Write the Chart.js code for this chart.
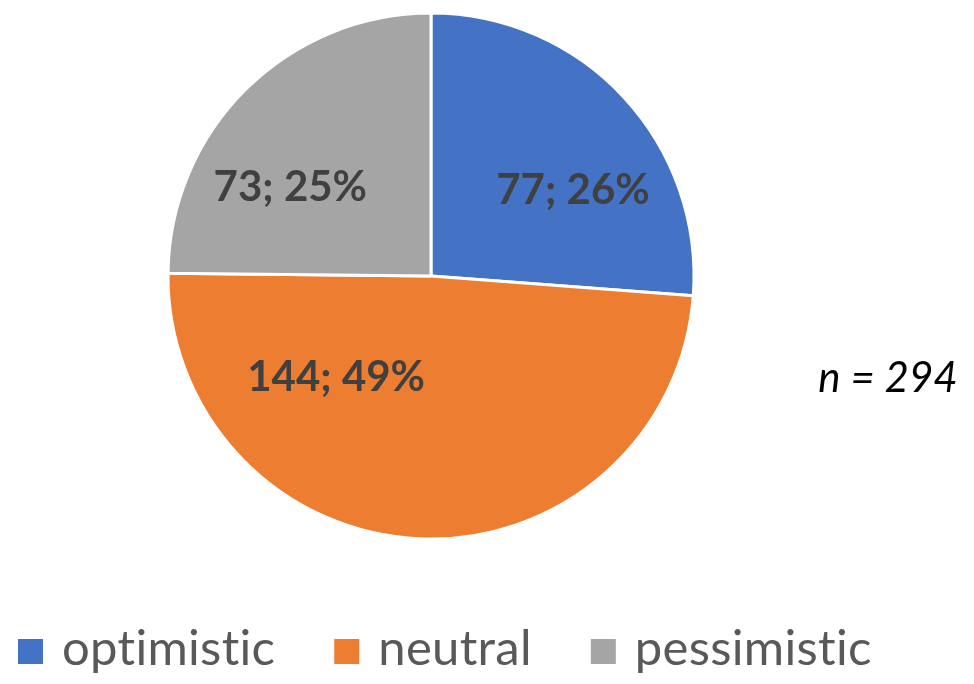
<!DOCTYPE html>
<html>
<head>
<meta charset="utf-8">
<script src="https://cdn.jsdelivr.net/npm/chart.js@4.4.1/dist/chart.umd.min.js"></script>
<style>
  html, body { margin: 0; padding: 0; background: #fff; }
  #wrap { position: relative; width: 974px; height: 684px; }
</style>
</head>
<body>
<div id="wrap"><canvas id="pieChart" width="974" height="684"></canvas></div>
<script>
// data
const categories = ['optimistic', 'neutral', 'pessimistic'];
const counts = [77, 144, 73];
const sliceColors = ['#4472C4', '#ED7D31', '#A5A5A5'];
const noteText = 'n = 294';

// where Excel put the labels: angle from 12 o'clock (deg) and fraction of radius
const labelAngles = [58.5, 223.5, 302.6];
const labelDist = [0.633, 0.524, 0.635];

const total = counts.reduce((a, b) => a + b, 0);

const labelPlugin = {
    id: 'sliceLabels',
    afterDatasetsDraw(chart) {
        const ctx = chart.ctx;
        const arcs = chart.getDatasetMeta(0).data;
        ctx.save();
        ctx.font = 'bold 42px Lato';
        ctx.fillStyle = '#404040';
        ctx.textAlign = 'center';
        ctx.textBaseline = 'middle';
        arcs.forEach((arc, i) => {
            const a = labelAngles[i] * Math.PI / 180;
            const r = arc.outerRadius * labelDist[i];
            const x = arc.x + Math.sin(a) * r;
            const y = arc.y - Math.cos(a) * r;
            const pct = Math.round(counts[i] / total * 100);
            ctx.fillText(counts[i] + '; ' + pct + '%', x, y + 1);
        });
        ctx.restore();
    },
    afterDraw(chart) {
        const ctx = chart.ctx;
        ctx.save();
        // note on the right
        ctx.font = 'italic 42px Lato';
        ctx.fillStyle = '#000';
        ctx.textAlign = 'center';
        ctx.textBaseline = 'alphabetic';
        ctx.fillText(noteText, 888, 392);

        // legend along the bottom
        ctx.font = '49px Lato';
        ctx.letterSpacing = '0.3px';   // also stops the "ti" ligature
        ctx.textAlign = 'left';
        let x = 18;
        categories.forEach((name, i) => {
            ctx.fillStyle = sliceColors[i];
            ctx.fillRect(x, 639, 25, 25);
            x += 25 + 19;
            ctx.fillStyle = '#595959';
            ctx.fillText(name, x, 665);
            x += ctx.measureText(name).width + 59;
        });
        ctx.restore();
    }
};

new Chart(document.getElementById('pieChart').getContext('2d'), {
    type: 'pie',
    data: {
        labels: categories,
        datasets: [{
            data: counts,
            backgroundColor: sliceColors,
            borderColor: '#ffffff',
            borderWidth: 3
        }]
    },
    options: {
        responsive: false,
        animation: false,
        radius: 263,
        layout: { padding: { top: 13, right: 112, bottom: 145, left: 0 } },
        plugins: {
            legend: { display: false },
            tooltip: { enabled: false }
        }
    },
    plugins: [labelPlugin]
});
</script>
</body>
</html>
